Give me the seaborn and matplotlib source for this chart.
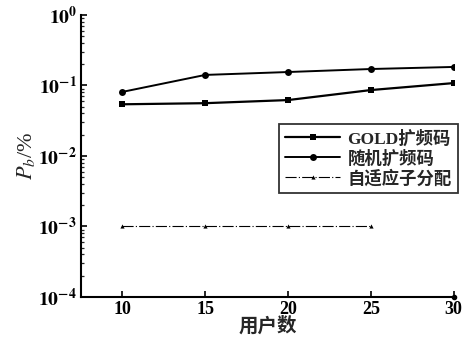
import numpy as np
import pandas as pd
import seaborn as sns
import matplotlib.pyplot as plt

# data
users = [10, 15, 20, 25, 30]
gold = [0.054, 0.056, 0.062, 0.086, 0.108]
random_code = [0.081, 0.141, 0.155, 0.171, 0.183]
adaptive_users = [10, 15, 20, 25]
adaptive = [1e-3, 1e-3, 1e-3, 1e-3]
labels = ['GOLD扩频码', '随机扩频码', '自适应子分配']
x_ticks = [10, 15, 20, 25, 30]

sns.set_style('ticks')
plt.rcParams['font.family'] = ['Liberation Serif', 'Noto Sans CJK SC']
plt.rcParams['mathtext.fontset'] = 'stix'

fig = plt.figure(figsize=(4.63, 3.48), dpi=100)
ax = fig.add_axes([0.175, 0.147, 0.805, 0.81])

sns.lineplot(x=users, y=gold, ax=ax, color='black', lw=1.6,
             marker='s', markersize=5, markeredgewidth=0, label=labels[0])
sns.lineplot(x=users, y=random_code, ax=ax, color='black', lw=1.4,
             marker='o', markersize=5, markeredgewidth=0, label=labels[1])
sns.lineplot(x=adaptive_users, y=adaptive, ax=ax, color='black', lw=0.8,
             linestyle=(0, (10, 2, 1, 2)), marker='^', markersize=3,
             markeredgewidth=0, label=labels[2])
# lone point of the adaptive series sitting on the bottom axis at 30 users
ax.plot([30], [1e-4], marker='o', color='black', markersize=3,
        clip_on=False)

ax.set_yscale('log')
ax.set_ylim(1e-4, 1)
ax.set_xlim(7.5, 30)
ax.set_xticks(x_ticks)
ax.set_yticks([1e-4, 1e-3, 1e-2, 1e-1, 1])
ax.set_yticklabels([r'$\mathbf{10^{-4}}$', r'$\mathbf{10^{-3}}$',
                    r'$\mathbf{10^{-2}}$', r'$\mathbf{10^{-1}}$',
                    r'$\mathbf{10^{0}}$'])
ax.tick_params(axis='both', direction='in', labelsize=14, width=1.2,
               length=4, colors='black', pad=3)
ax.tick_params(axis='x', labelsize=13)
ax.tick_params(axis='y', which='minor', direction='in', length=2.5,
               width=0.9)
ax.tick_params(axis='x', which='minor', bottom=False)
for t in ax.get_xticklabels():
    t.set_fontweight('bold')
ax.set_xlabel('用户数', fontsize=14, fontweight='bold',
              family=['Noto Sans CJK SC'], labelpad=-1)
ax.set_ylabel(r'$P_b$/%', fontsize=16, labelpad=1)

for s in ['left', 'bottom']:
    ax.spines[s].set_linewidth(1.5)
    ax.spines[s].set_color('black')
sns.despine(ax=ax)

leg = ax.legend(loc='center right', bbox_to_anchor=(1.02, 0.49),
                frameon=True, fancybox=False, edgecolor='black',
                handlelength=3.2, borderpad=0.35,
                labelspacing=0.15, handletextpad=0.4, borderaxespad=0.2,
                prop={'family': ['Liberation Serif', 'Noto Sans CJK SC'],
                      'weight': 'bold', 'size': 12.5})
leg.get_frame().set_linewidth(1.3)

fig.savefig('out.png', dpi=100)
